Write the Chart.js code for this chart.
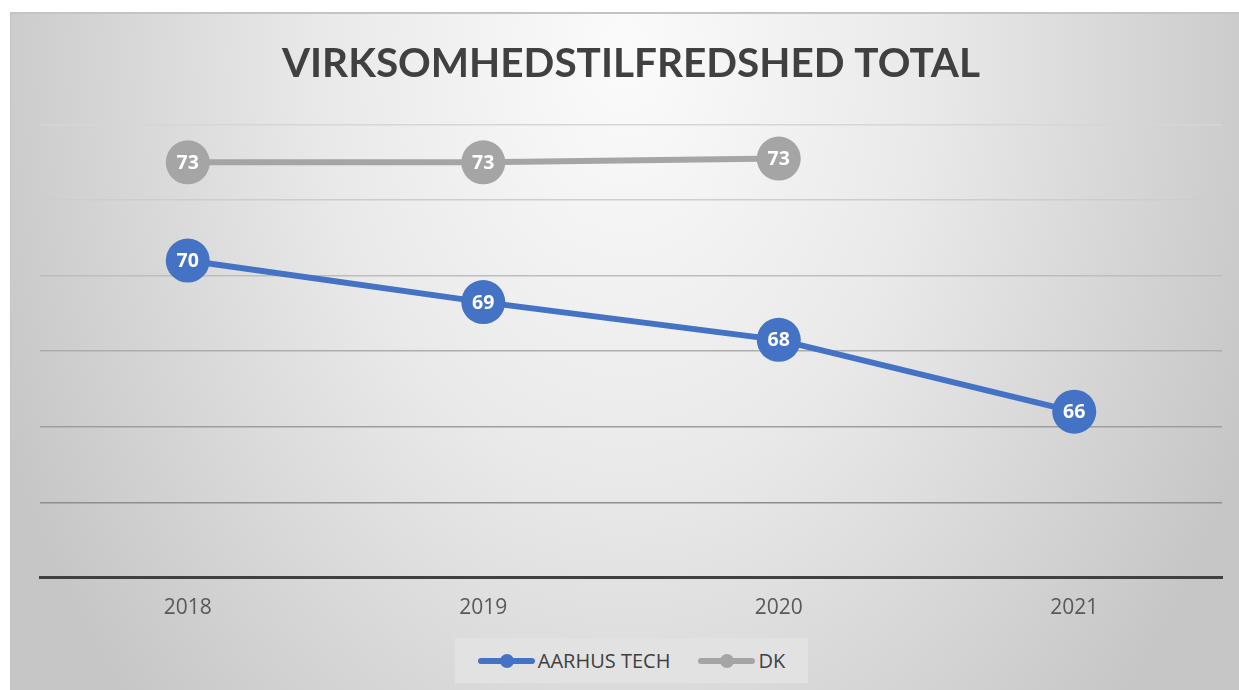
<!DOCTYPE html>
<html>
<head>
<meta charset="utf-8">
<script src="https://cdn.jsdelivr.net/npm/chart.js@4"></script>
<style>
    html, body { margin: 0; padding: 0; background: #ffffff; }
    body { width: 1239px; height: 690px; position: relative; overflow: hidden; }
    .chart-bg {
        position: absolute; left: 10px; top: 12px; width: 1229px; height: 678px;
        border-top: 2px solid #c4c4c4; border-left: 1px solid #c4c4c4;
        box-sizing: border-box;
        background: radial-gradient(ellipse 680px 950px at 50% 6%, #fbfbfb 0%, #e9e9e9 45%, #c6c6c6 100%);
    }
    #chart { position: absolute; left: 0; top: 0; }
    .legend {
        position: absolute; left: 455px; top: 638px; width: 353px; height: 45px;
        background: #e2e2e2; display: flex; align-items: center; justify-content: center;
        font-family: "Open Sans", sans-serif; font-size: 20px; color: #404040;
    }
    .legend-item { display: flex; align-items: center; margin: 0 14px; }
    .legend-mark { position: relative; width: 57px; height: 6px; border-radius: 3px; margin-right: 3px; }
    .legend-mark span {
        position: absolute; left: 22px; top: -4px; width: 14px; height: 14px; border-radius: 50%;
    }
</style>
</head>
<body>
<div class="chart-bg"></div>
<canvas id="chart" width="1239" height="690"></canvas>
<div class="legend" id="legend"></div>

<script>
// data
const years = ['2018', '2019', '2020', '2021'];
const aarhusTech = [70.4, 69.3, 68.3, 66.4];
const dk = [73.0, 73.0, 73.1, null];
const seriesNames = ['AARHUS TECH', 'DK'];
const seriesColors = ['#4472c4', '#a5a5a5'];

const titleText = 'VIRKSOMHEDSTILFREDSHED TOTAL';

// gridline shades, lighter at the top
const gridShades = {
    74: '#d6d6d6', 72: '#cdcdcd', 70: '#bdbdbd',
    68: '#adadad', 66: '#9e9e9e', 64: '#8e8e8e', 62: 'rgba(0,0,0,0)'
};

// values inside the point circles
const pointLabels = {
    id: 'pointLabels',
    afterDatasetsDraw(chart) {
        const ctx = chart.ctx;
        ctx.save();
        ctx.font = 'bold 19.5px "Open Sans", sans-serif';
        ctx.fillStyle = '#ffffff';
        ctx.textAlign = 'center';
        ctx.textBaseline = 'middle';
        chart.data.datasets.forEach((ds, i) => {
            const meta = chart.getDatasetMeta(i);
            meta.data.forEach((pt, j) => {
                const v = ds.data[j];
                if (v === null || v === undefined) return;
                ctx.fillText(String(Math.round(v)), pt.x, pt.y + 1);
            });
        });
        ctx.restore();
    }
};

const datasets = [aarhusTech, dk].map((values, i) => ({
    label: seriesNames[i],
    data: values,
    borderColor: seriesColors[i],
    backgroundColor: seriesColors[i],
    borderWidth: 6,
    pointRadius: 22,
    pointHoverRadius: 22,
    pointBorderWidth: 0,
    pointBackgroundColor: seriesColors[i],
    tension: 0,
    spanGaps: false
}));

const chart = new Chart(document.getElementById('chart'), {
    type: 'line',
    data: { labels: years, datasets: datasets },
    options: {
        responsive: false,
        animation: false,
        layout: { autoPadding: false, padding: { left: 40, right: 17, top: 12, bottom: 51 } },
        plugins: {
            legend: { display: false },
            tooltip: { enabled: false },
            title: {
                display: true,
                text: titleText,
                color: '#404040',
                font: { family: 'Lato', size: 40.5, weight: 'bold', lineHeight: 1.2 },
                padding: { top: 28, bottom: 36 }
            }
        },
        scales: {
            x: {
                offset: true,
                grid: { display: false, drawTicks: false },
                border: { display: true, color: '#404040', width: 3 },
                ticks: {
                    color: '#595959',
                    padding: 18,
                    font: { family: 'Open Sans', size: 21 }
                },
                afterFit: (scale) => { scale.paddingLeft = 0; scale.paddingRight = 0; }
            },
            y: {
                min: 62,
                max: 74,
                ticks: { display: false, stepSize: 2 },
                border: { display: false },
                grid: {
                    drawTicks: false,
                    lineWidth: 1.5,
                    color: (c) => gridShades[c.tick ? c.tick.value : 62] || '#b0b0b0'
                }
            }
        }
    },
    plugins: [pointLabels]
});

// legend built from the same series
const legend = document.getElementById('legend');
seriesNames.forEach((name, i) => {
    const item = document.createElement('div');
    item.className = 'legend-item';
    item.innerHTML = '<div class="legend-mark" style="background:' + seriesColors[i] + '">' +
        '<span style="background:' + seriesColors[i] + '"></span></div>' + name;
    legend.appendChild(item);
});
</script>
</body>
</html>
